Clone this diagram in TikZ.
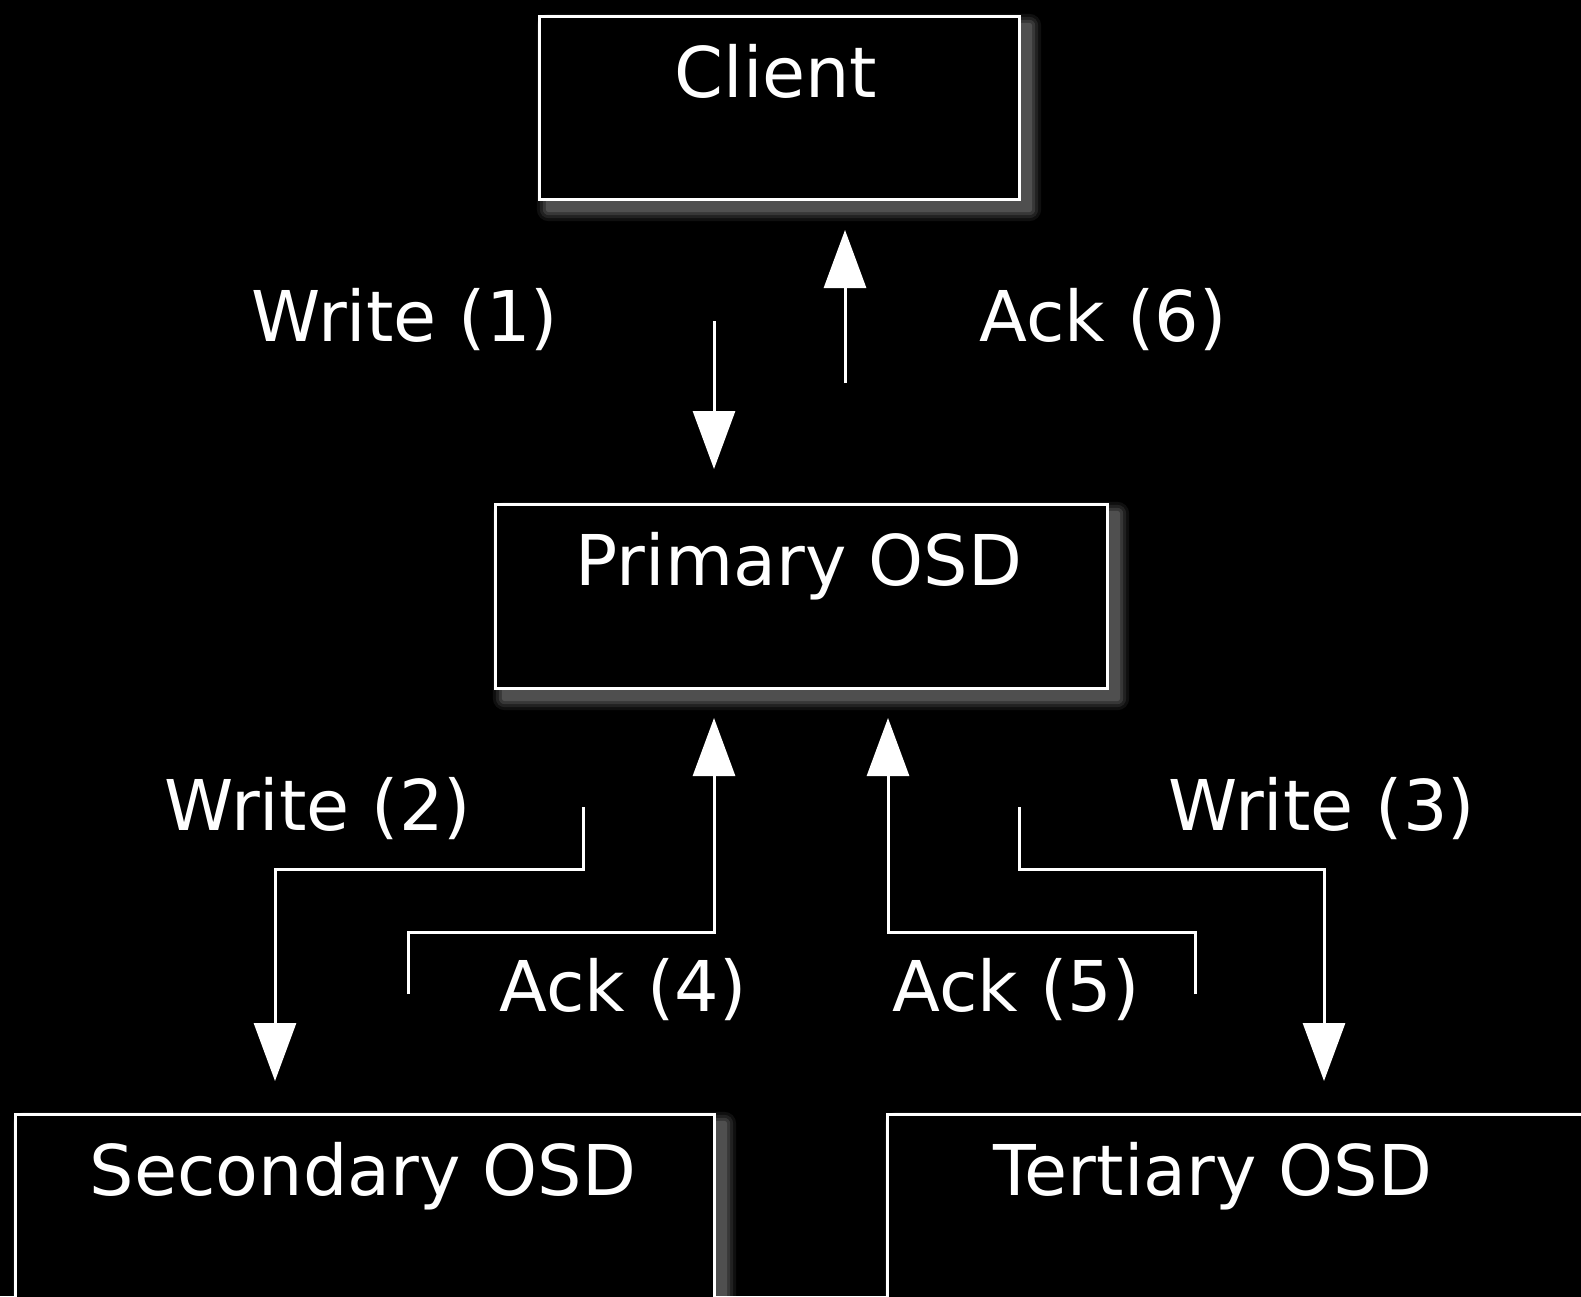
\documentclass[tikz,border=0pt]{standalone}
\usepackage{fontspec}
\setmainfont{DejaVu Sans}
\usetikzlibrary{arrows.meta}
\newcommand{\boxglow}[1]{%
  \foreach \r/\o in {12/0.06,9/0.08,6/0.10,3/0.12}{%
    \fill[white, opacity=\o, rounded corners=\r pt]
      ([xshift=10pt-\r pt, yshift=-10pt+\r pt]#1.north west) rectangle ([xshift=10pt+\r pt, yshift=-10pt-\r pt]#1.south east);
  }%
  \fill[black] (#1.north west) rectangle (#1.south east);
}
\begin{document}
\begin{tikzpicture}[x=1pt,y=-1pt,
  box/.style={draw=white, line width=3pt, rectangle, inner sep=0pt},
  lbl/.style={text=white, anchor=base, inner sep=0pt, font=\fontsize{70}{82}\selectfont},
  conn/.style={draw=white, line width=3pt, -{Triangle[width=42pt,length=58pt]}}
]
\fill[black] (0,0) rectangle (1581,1296);
\useasboundingbox (0,0) rectangle (1581,1296);

% box shapes (invisible placeholders for glow)
\path (779,107.5) node[minimum width=480pt, minimum height=183pt, inner sep=0pt] (cg) {};
\path (801,596) node[minimum width=612pt, minimum height=184pt, inner sep=0pt] (pg) {};
\path (364.5,1224) node[minimum width=699pt, minimum height=220pt, inner sep=0pt] (sg) {};
\path (1247,1224) node[minimum width=720pt, minimum height=220pt, inner sep=0pt] (tg) {};
\boxglow{cg}\boxglow{pg}\boxglow{sg}\boxglow{tg}

% boxes
\node[box, minimum width=480pt, minimum height=183pt] (client) at (779,107.5) {};
\node[box, minimum width=612pt, minimum height=184pt] (primary) at (801,596) {};
\node[box, minimum width=699pt, minimum height=220pt] (secondary) at (364.5,1224) {};
\node[box, minimum width=720pt, minimum height=220pt] (tertiary) at (1247,1224) {};

% box labels
\node[lbl] (clientt) at (776,97) {Client};
\node[lbl] (primaryt) at (799,585) {Primary OSD};
\node[lbl] (secondaryt) at (363,1195) {Secondary OSD};
\node[lbl] (tertiaryt) at (1213,1195) {Tertiary OSD};

% edge labels
\node[lbl] (w1) at (405,341) {Write (1)};
\node[lbl] (a6) at (1103,341) {Ack (6)};
\node[lbl] (w2) at (318,830) {Write (2)};
\node[lbl] (w3) at (1322,830) {Write (3)};
\node[lbl] (a4) at (623,1011) {Ack (4)};
\node[lbl] (a5) at (1016,1011) {Ack (5)};

% connector coordinates
\coordinate (w1s) at (714,321);
\coordinate (w1e) at (714,469);
\coordinate (a6s) at (845,383);
\coordinate (a6e) at (845,230);
\coordinate (w2s) at (583,807);
\coordinate (w2e) at (275,1081);
\coordinate (w3s) at (1019,807);
\coordinate (w3e) at (1324,1081);
\coordinate (a4s) at (408,994);
\coordinate (a4e) at (714,718);
\coordinate (a5s) at (1195,994);
\coordinate (a5e) at (888,718);

\draw[conn] (w1s) -- (w1e);
\draw[conn] (a6s) -- (a6e);
\draw[conn] (w2s) -- (w2s |- 0,869) -- (w2e |- 0,869) -- (w2e);
\draw[conn] (w3s) -- (w3s |- 0,869) -- (w3e |- 0,869) -- (w3e);
\draw[conn] (a4s) -- (a4s |- 0,932) -- (a4e |- 0,932) -- (a4e);
\draw[conn] (a5s) -- (a5s |- 0,932) -- (a5e |- 0,932) -- (a5e);
\end{tikzpicture}
\end{document}
